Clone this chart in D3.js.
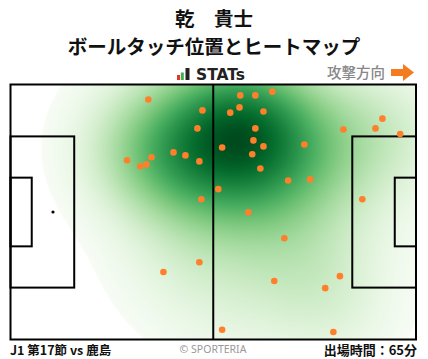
<!DOCTYPE html>
<html><head><meta charset="utf-8">
<script src="https://cdn.jsdelivr.net/npm/d3@7"></script>
<style>body{margin:0;background:#fff;overflow:hidden}</style>
</head><body><svg id="c" width="428" height="359"></svg>
<script>
const playerName = "乾　貴士";
const chartTitle = "ボールタッチ位置とヒートマップ";
const matchLabel = "J1 第17節 vs 鹿島";
const minutesLabel = "出場時間：65分";
const directionLabel = "攻撃方向";
const creditLabel = "© SPORTERIA";
const brandLabel = "STATs";
const pitchLength = 105, pitchWidth = 68;
// ball touch positions (metres from left goal line / from top touchline)
const touchX = [35.7,49.7,48.4,59.5,63.4,67.8,59.3,56.9,65.5,63.4,86.2,94.5,96.3,100.9,30.2,33.6,35.2,36.5,42.2,45.3,48.9,54.8,62.9,65.5,62.6,64.7,76.1,71.9,77.6,53.8,49.4,61.6,91.1,70.9,48.9,39.6,68.3,85.3,81.5,54.8,83.6];
const touchY = [4.0,6.9,11.7,2.9,2.9,1.9,6.1,7.5,7.2,11.7,12.0,11.7,9.1,13.2,20.2,21.8,21.3,19.4,18.1,18.9,20.5,16.8,14.9,16.5,18.6,22.4,16.0,25.6,25.3,27.9,30.6,34.1,30.6,41.0,47.4,50.0,52.4,51.1,54.3,65.4,66.0];

const svg = d3.select("#c");
const FONT = "'Noto Sans CJK JP', 'Noto Sans', sans-serif";
const x = d3.scaleLinear().domain([0, pitchLength]).range([10.5, 416]);
const y = d3.scaleLinear().domain([0, pitchWidth]).range([84.5, 339.5]);

// ---- KDE (Scott's rule, full covariance)
const bwAdjust = 1.35;
const px = touchX.map(v => x(v)), py = touchY.map(v => y(v));
const n = px.length;
const mx = d3.mean(px), my = d3.mean(py);
let sxx=0, syy=0, sxy=0;
for (let i=0;i<n;i++){ const dx=px[i]-mx, dy=py[i]-my; sxx+=dx*dx; syy+=dy*dy; sxy+=dx*dy; }
sxx/=(n-1); syy/=(n-1); sxy/=(n-1);
const f2 = Math.pow(n, -2/6) * bwAdjust * bwAdjust;
const a = sxx*f2, b = sxy*f2, c = syy*f2;
const det = a*c - b*b;
const ia = c/det, ib = -b/det, ic = a/det;
function dens(gx, gy){
  let s = 0;
  for (let i=0;i<n;i++){ const dx=gx-px[i], dy=gy-py[i]; s += Math.exp(-0.5*(ia*dx*dx + 2*ib*dx*dy + ic*dy*dy)); }
  return s;
}
const sx = Math.sqrt(a), sy = Math.sqrt(c);
const gx0 = d3.min(px)-3*sx, gx1 = d3.max(px)+3*sx, gy0 = d3.min(py)-3*sy, gy1 = d3.max(py)+3*sy;
const vals = [];
for (let gx=gx0; gx<=gx1; gx+=3) for (let gy=gy0; gy<=gy1; gy+=3) vals.push(dens(gx,gy));
vals.sort((p,q)=>p-q);
const total = d3.sum(vals);
let acc = 0, thr = 0;
for (let i=0;i<vals.length;i++){ acc += vals[i]; if (acc >= 0.04*total){ thr = vals[i]; break; } }
const dmax = vals[vals.length-1];

const X0 = x(0), Y0 = y(0), W = Math.round(x(pitchLength)-X0), H = Math.round(y(pitchWidth)-Y0);
const cv = document.createElement("canvas"); cv.width = W; cv.height = H;
const ctx = cv.getContext("2d");
const img = ctx.createImageData(W, H);
for (let j=0;j<H;j++) for (let i=0;i<W;i++){
  const d = dens(X0+i+0.5, Y0+j+0.5);
  const k = (j*W+i)*4;
  if (d < thr){ img.data[k+3]=0; continue; }
  const t = (d-thr)/(dmax-thr);
  const col = d3.rgb(d3.interpolateGreens(t*0.98));
  img.data[k]=col.r; img.data[k+1]=col.g; img.data[k+2]=col.b; img.data[k+3]=255;
}
ctx.putImageData(img,0,0);
svg.append("image").attr("x",X0).attr("y",Y0).attr("width",W).attr("height",H)
  .attr("href", cv.toDataURL());

// ---- pitch lines
const g = svg.append("g").attr("fill","none").attr("stroke","#000").attr("stroke-width",2);
g.append("rect").attr("x",x(0)).attr("y",y(0)).attr("width",x(pitchLength)-x(0)).attr("height",y(pitchWidth)-y(0));
g.append("line").attr("x1",x(pitchLength/2)).attr("x2",x(pitchLength/2)).attr("y1",y(0)).attr("y2",y(pitchWidth));
const boxes = [[16.5,40.32],[5.5,18.32]];
boxes.forEach(([dep,wid])=>{
  const t = (pitchWidth-wid)/2;
  g.append("rect").attr("x",x(0)).attr("y",y(t)).attr("width",x(dep)-x(0)).attr("height",y(t+wid)-y(t));
  g.append("rect").attr("x",x(pitchLength-dep)).attr("y",y(t)).attr("width",x(pitchLength)-x(pitchLength-dep)).attr("height",y(t+wid)-y(t));
});
svg.append("circle").attr("cx",x(11)).attr("cy",y(pitchWidth/2)).attr("r",1.6).attr("fill","#000");

// ---- touches
svg.append("g").selectAll("circle").data(d3.range(n)).join("circle")
  .attr("cx",i=>x(touchX[i])).attr("cy",i=>y(touchY[i])).attr("r",3.3).attr("fill","#ff7f2a");

// ---- texts
svg.append("text").attr("x",214).attr("y",26).attr("text-anchor","middle").attr("font-family",FONT)
  .attr("font-weight","bold").attr("font-size",19.5).attr("fill","#111").text(playerName);
svg.append("text").attr("x",214).attr("y",53.5).attr("text-anchor","middle").attr("font-family",FONT)
  .attr("font-weight","bold").attr("font-size",19.5).attr("fill","#111").text(chartTitle);
const logoBars = [[177,75,3,"#e8312d"],[180.8,72.5,3,"#3cb04a"],[185.5,68,4,"#222"]];
logoBars.forEach(([bx,by,bw,bc])=> svg.append("rect").attr("x",bx).attr("y",by).attr("width",bw).attr("height",80-by).attr("fill",bc));
svg.append("text").attr("x",196).attr("y",80).attr("font-family","'DejaVu Sans', sans-serif").attr("font-weight","bold")
  .attr("font-size",15.5).attr("fill","#222").text(brandLabel);
svg.append("text").attr("x",385).attr("y",78).attr("text-anchor","end").attr("font-family",FONT)
  .attr("font-weight","500").attr("font-size",14.5).attr("fill","#888").text(directionLabel);
svg.append("path").attr("d","M391,69 L403,69 L403,64 L414,72.5 L403,81 L403,76 L391,76 Z").attr("fill","#f47b20");
svg.append("text").attr("x",10).attr("y",355).attr("font-family",FONT).attr("font-weight","bold")
  .attr("font-size",12.5).attr("fill","#111").text(matchLabel);
svg.append("text").attr("x",213).attr("y",353).attr("text-anchor","middle").attr("font-family","'Noto Sans', sans-serif")
  .attr("font-size",10.5).attr("fill","#999").text(creditLabel);
svg.append("text").attr("x",417).attr("y",355).attr("text-anchor","end").attr("font-family",FONT).attr("font-weight","bold")
  .attr("font-size",13).attr("fill","#111").text(minutesLabel);
</script></body></html>
